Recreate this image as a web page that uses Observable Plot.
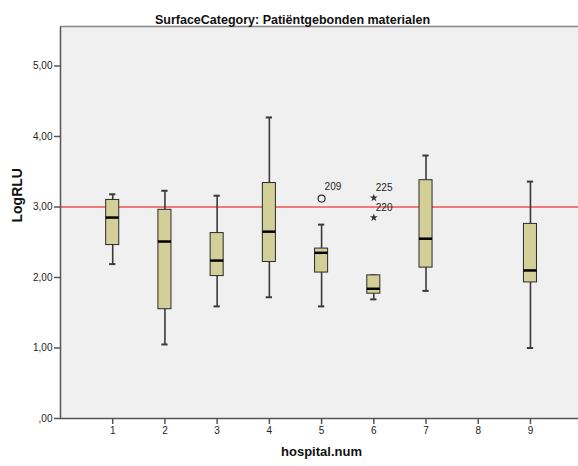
<!DOCTYPE html>
<html>
<head>
<meta charset="utf-8">
<script src="https://cdn.jsdelivr.net/npm/d3@7"></script>
<script src="https://cdn.jsdelivr.net/npm/@observablehq/plot@0.6"></script>
<style>
  html, body { margin: 0; padding: 0; background: #fff; }
  svg { display: block; }
</style>
</head>
<body>
<div id="chart"></div>
<script>
const hospitals   = [1, 2, 3, 4, 5, 6, 7, 9];
const whiskerLow  = [2.19, 1.05, 1.59, 1.72, 1.59, 1.69, 1.81, 1.00];
const q1          = [2.46, 1.55, 2.02, 2.22, 2.07, 1.77, 2.14, 1.93];
const median      = [2.85, 2.51, 2.24, 2.65, 2.35, 1.84, 2.55, 2.10];
const q3          = [3.10, 2.96, 2.63, 3.34, 2.41, 2.03, 3.38, 2.76];
const whiskerHigh = [3.18, 3.23, 3.16, 4.27, 2.75, 2.03, 3.73, 3.36];

const outlierHospital = [5];
const outlierValue    = [3.12];
const outlierLabel    = ["209"];

const extremeHospital = [6, 6];
const extremeValue    = [3.13, 2.85];
const extremeLabel    = ["225", "220"];

const xTicks = [1, 2, 3, 4, 5, 6, 7, 8, 9];
const yTicks = [0, 1, 2, 3, 4, 5];
const referenceValue = 3;

const title = "SurfaceCategory: Patiëntgebonden materialen";
const xLabel = "hospital.num";
const yLabel = "LogRLU";

const boxes = hospitals.map((h, i) => ({
  h, lo: whiskerLow[i], q1: q1[i], med: median[i], q3: q3[i], hi: whiskerHigh[i]
}));
const outliers = outlierHospital.map((h, i) => ({h, v: outlierValue[i], label: outlierLabel[i]}));
const extremes = extremeHospital.map((h, i) => ({h, v: extremeValue[i], label: extremeLabel[i]}));

const halfBox = 0.125;
const halfCap = 0.06;
const font = "Liberation Sans, Arial, sans-serif";

const chart = Plot.plot({
  width: 578,
  height: 466,
  marginLeft: 60,
  marginRight: 0,
  marginTop: 26,
  marginBottom: 48,
  style: {fontFamily: font, background: "#fff"},
  x: {domain: [0, 9.92], axis: null},
  y: {domain: [0, 5.56], axis: null},
  marks: [
    Plot.frame({fill: "#f0f0f0", stroke: null}),
    Plot.ruleY([referenceValue], {stroke: "#f07a7a", strokeWidth: 2}),
    // whiskers
    Plot.ruleX(boxes, {x: "h", y1: "lo", y2: "q1", stroke: "#3a3a3a", strokeWidth: 1.6}),
    Plot.ruleX(boxes, {x: "h", y1: "q3", y2: "hi", stroke: "#3a3a3a", strokeWidth: 1.6}),
    Plot.ruleY(boxes, {y: "lo", x1: d => d.h - halfCap, x2: d => d.h + halfCap, stroke: "#3a3a3a", strokeWidth: 2}),
    Plot.ruleY(boxes, {y: "hi", x1: d => d.h - halfCap, x2: d => d.h + halfCap, stroke: "#3a3a3a", strokeWidth: 2}),
    // boxes
    Plot.rect(boxes, {x1: d => d.h - halfBox, x2: d => d.h + halfBox, y1: "q1", y2: "q3",
      fill: "#d3cf98", stroke: "#2a2a2a", strokeWidth: 1}),
    Plot.ruleY(boxes, {y: "med", x1: d => d.h - halfBox, x2: d => d.h + halfBox, stroke: "#000", strokeWidth: 2.5}),
    // outliers
    Plot.dot(outliers, {x: "h", y: "v", r: 3.5, stroke: "#333", strokeWidth: 1.2, fill: "none"}),
    Plot.text(outliers, {x: "h", y: "v", text: "label", dx: 3, dy: -12, textAnchor: "start", fontSize: 10, fill: "#222"}),
    Plot.dot(extremes, {x: "h", y: "v", symbol: "star", r: 2.5, fill: "#333", stroke: null}),
    Plot.text(extremes, {x: "h", y: "v", text: "label", dx: 2, dy: -10, textAnchor: "start", fontSize: 10, fill: "#222"}),
    // frame lines
    Plot.ruleX([0], {stroke: "#555", strokeWidth: 1.5}),
    Plot.ruleY([0], {stroke: "#555", strokeWidth: 1.5}),
    Plot.ruleY([5.56], {stroke: "#888", strokeWidth: 1.5}),
    // axes
    Plot.axisY({ticks: yTicks, tickSize: 6, tickPadding: 2, fontSize: 10, stroke: "#555", strokeWidth: 1.5, color: "#222",
      tickFormat: d => d === 0 ? ",00" : d.toFixed(2).replace(".", ","), label: null}),
    Plot.axisX({ticks: xTicks, tickSize: 6, tickPadding: 2, fontSize: 10, stroke: "#555", strokeWidth: 1.5, color: "#222",
      tickFormat: d => String(d), label: null}),
    // titles
    Plot.text([title], {frameAnchor: "top", dx: 292 - 319, dy: -11, fontSize: 12.5, fontWeight: "bold", fill: "#111"}),
    Plot.text([xLabel], {frameAnchor: "bottom", dx: 321 - 319, dy: 37, fontSize: 13, fontWeight: "bold", fill: "#111"}),
    Plot.text([yLabel], {frameAnchor: "left", dx: -43, dy: 0, rotate: -90, fontSize: 14, fontWeight: "bold", fill: "#111"})
  ]
});
document.getElementById("chart").appendChild(chart);
</script>
</body>
</html>
